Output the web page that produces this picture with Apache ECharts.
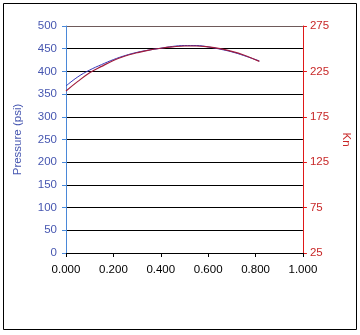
<!DOCTYPE html>
<html>
<head>
<meta charset="utf-8">
<script src="https://cdn.jsdelivr.net/npm/echarts@6/dist/echarts.min.js"></script>
<style>
html,body{margin:0;padding:0;background:#fff;}
#c{width:360px;height:335px;}
</style>
</head>
<body>
<div id="c"></div>
<script>
var xValues = [0, 0.05, 0.1, 0.15, 0.2, 0.25, 0.3, 0.35, 0.4, 0.45, 0.5, 0.55, 0.6, 0.65, 0.7, 0.75, 0.816];
var pressure = [368, 388, 403, 415, 426, 435, 442, 447, 451, 455, 457, 457, 454, 449, 443, 435, 423];
var kn = [203.5, 214, 223.5, 230.5, 237, 242, 245.5, 248.5, 250.5, 252, 253, 253, 252, 250, 247, 243, 236];
var xTicks = [0, 0.2, 0.4, 0.6, 0.8, 1.0];
var leftTicks = [0, 50, 100, 150, 200, 250, 300, 350, 400, 450, 500];
var rightTicks = [25, 75, 125, 175, 225, 275];

function pairs(xs, ys) { return xs.map(function (x, i) { return [x, ys[i]]; }); }

var chart = echarts.init(document.getElementById('c'), null, {renderer: 'canvas'});
var font = 'Liberation Sans, Arial, sans-serif';
var gridColors = leftTicks.map(function (v, i) { return i === leftTicks.length - 1 ? '#6e5a5a' : '#000000'; });
chart.setOption({
  backgroundColor: '#ffffff',
  animation: false,
  graphic: [{
    type: 'rect',
    shape: {x: 3.5, y: 3.5, width: 353, height: 326},
    style: {fill: 'none', stroke: '#000', lineWidth: 1},
    silent: true
  }],
  grid: {left: 66, right: 54, top: 26, bottom: 82, containLabel: false},
  xAxis: {
    type: 'value', min: xTicks[0], max: xTicks[xTicks.length - 1], interval: 0.2,
    axisLine: {show: true, onZero: false, lineStyle: {color: '#000', width: 1}},
    axisTick: {show: true, length: 4, lineStyle: {color: '#000'}},
    splitLine: {show: false},
    axisLabel: {color: '#000', fontFamily: font, fontSize: 11.5, margin: 11,
      formatter: function (v) { return v.toFixed(3); }}
  },
  yAxis: [{
    type: 'value', min: leftTicks[0], max: leftTicks[leftTicks.length - 1], interval: 50,
    position: 'left',
    name: 'Pressure (psi)', nameLocation: 'middle', nameGap: 42, nameRotate: 90,
    nameTextStyle: {color: '#4656b0', fontFamily: font, fontSize: 11.5},
    axisLine: {show: true, lineStyle: {color: '#4a88d8', width: 1}},
    axisTick: {show: true, length: 4, lineStyle: {color: '#4a88d8'}},
    splitLine: {show: true, lineStyle: {color: gridColors, width: 1}},
    axisLabel: {color: '#4656b0', fontFamily: font, fontSize: 11.5, margin: 9}
  }, {
    type: 'value', min: rightTicks[0], max: rightTicks[rightTicks.length - 1], interval: 50,
    position: 'right',
    name: 'Kn', nameLocation: 'middle', nameGap: 32, nameRotate: -90,
    nameTextStyle: {color: '#c82828', fontFamily: font, fontSize: 11.5},
    axisLine: {show: true, lineStyle: {color: '#e01818', width: 1}},
    axisTick: {show: true, length: 4, lineStyle: {color: '#e01818'}},
    splitLine: {show: false},
    axisLabel: {color: '#c82828', fontFamily: font, fontSize: 11.5, margin: 7}
  }],
  series: [{
    type: 'line', name: 'Pressure', yAxisIndex: 0, data: pairs(xValues, pressure),
    smooth: 0.4, symbol: 'none', lineStyle: {color: '#3535b8', width: 1}
  }, {
    type: 'line', name: 'Kn', yAxisIndex: 1, data: pairs(xValues, kn),
    smooth: 0.4, symbol: 'none', lineStyle: {color: '#a01c3c', width: 1.2}
  }]
});
</script>
</body>
</html>
